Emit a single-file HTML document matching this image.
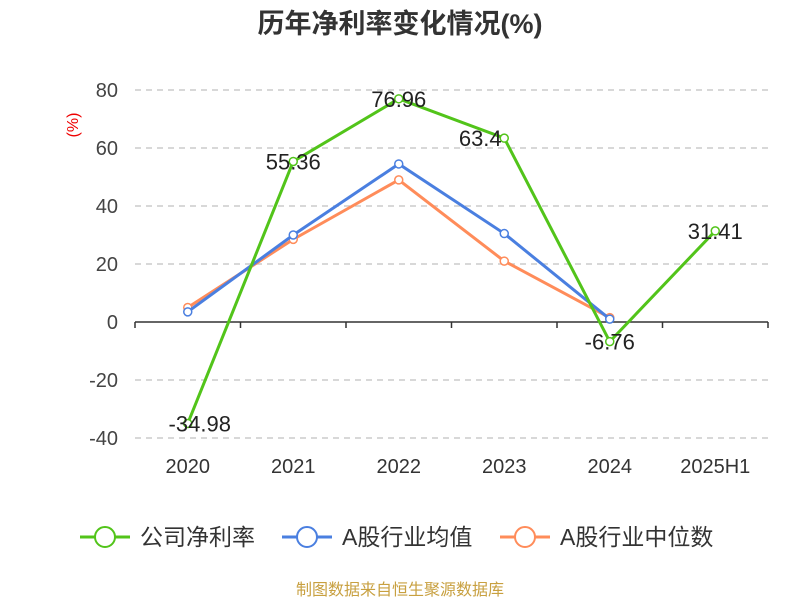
<!DOCTYPE html>
<html><head><meta charset="utf-8"><style>
body{margin:0;background:#fff;}
text{font-family:"Liberation Sans","Noto Sans CJK SC",sans-serif;}
</style></head><body>
<svg id="chart" width="800" height="600" xmlns="http://www.w3.org/2000/svg">
<text x="400" y="33" text-anchor="middle" font-size="27" font-weight="bold" fill="#333">历年净利率变化情况(%)</text>
<text transform="translate(78,125) rotate(-90)" text-anchor="middle" font-size="16" fill="#e00">(%)</text>
<g id="grid"></g><g id="axes"></g><g id="series"></g>
<g>
<g><line x1="80" y1="537" x2="130" y2="537" stroke="#52c41a" stroke-width="3"/><circle cx="105" cy="537" r="10" fill="#fff" stroke="#52c41a" stroke-width="2"/><text x="140" y="545" font-size="23" fill="#333">公司净利率</text></g>
<g><line x1="282" y1="537" x2="332" y2="537" stroke="#4a7fe0" stroke-width="3"/><circle cx="307" cy="537" r="10" fill="#fff" stroke="#4a7fe0" stroke-width="2"/><text x="342" y="545" font-size="23" fill="#333">A股行业均值</text></g>
<g><line x1="500" y1="537" x2="550" y2="537" stroke="#ff8c5a" stroke-width="3"/><circle cx="525" cy="537" r="10" fill="#fff" stroke="#ff8c5a" stroke-width="2"/><text x="560" y="545" font-size="23" fill="#333">A股行业中位数</text></g>
</g>
<text x="400" y="595" text-anchor="middle" font-size="16" fill="#c8a040">制图数据来自恒生聚源数据库</text>
</svg>
<script>
const categories=["2020","2021","2022","2023","2024","2025H1"];
const netMargin=[-34.98,55.36,76.96,63.4,-6.76,31.41];
const industryAvg=[3.5,30,54.5,30.5,1];
const industryMedian=[5,28.5,49,21,1.5];
const yTicks=[-40,-20,0,20,40,60,80];
const NS="http://www.w3.org/2000/svg";
const x0=135,x1=768,yTop=90,yBot=438,yMin=-40,yMax=80;
const bw=(x1-x0)/categories.length;
const xs=i=>x0+bw*(i+0.5);
const ys=v=>yBot-(v-yMin)/(yMax-yMin)*(yBot-yTop);
function mk(tag,attrs,parent){const e=document.createElementNS(NS,tag);for(const k in attrs)e.setAttribute(k,attrs[k]);parent.appendChild(e);return e;}
const grid=document.getElementById('grid'),axes=document.getElementById('axes'),ser=document.getElementById('series');
yTicks.forEach(t=>{
 if(t!==0){const l=mk('line',{x1:x0,x2:x1,y1:ys(t),y2:ys(t),stroke:'#ccc','stroke-dasharray':'6,5','stroke-width':1.5},grid);
 
 }
 const tx=mk('text',{x:118,y:ys(t)+7,'text-anchor':'end','font-size':20,fill:'#444'},axes);tx.textContent=t;
 
 
});
const ax=mk('line',{x1:x0,x2:x1,y1:ys(0),y2:ys(0),stroke:'#333','stroke-width':1.5},axes);


for(let i=0;i<=categories.length;i++){const tk=mk('line',{x1:x0+bw*i,x2:x0+bw*i,y1:ys(0),y2:ys(0)+6,stroke:'#333','stroke-width':1.5},axes);
 
 }
categories.forEach((c,i)=>{const t=mk('text',{x:xs(i),y:473,'text-anchor':'middle','font-size':20,fill:'#333'},axes);t.textContent=c;
 
 });
function drawSeries(vals,color,name){
 const g=mk('g',{},ser);
 
 
 const p=mk('polyline',{points:vals.map((v,i)=>xs(i)+','+ys(v)).join(' '),fill:'none',stroke:color,'stroke-width':3},g);
 
 
 vals.forEach((v,i)=>{const c=mk('circle',{cx:xs(i),cy:ys(v),r:4,fill:'#fff',stroke:color,'stroke-width':1.5},g);
  
  });
}
drawSeries(industryMedian,'#ff8c5a','a-share-median');
drawSeries(industryAvg,'#4a7fe0','a-share-average');
drawSeries(netMargin,'#52c41a','net-margin');
netMargin.forEach((v,i)=>{const t=mk('text',{x:xs(i)+(i===0?12:0)-(i===3?24:0),y:ys(v)+8,'text-anchor':'middle','font-size':22,fill:'#222'},ser);t.textContent=v;
 
 });
</script>
</body></html>
